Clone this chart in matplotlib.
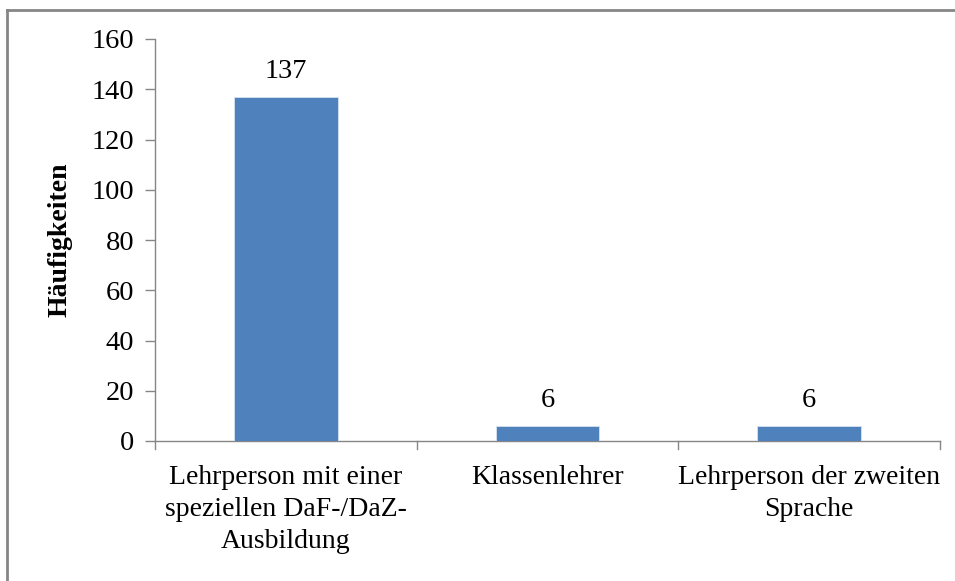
import matplotlib
matplotlib.use("Agg")
import matplotlib.pyplot as plt
from matplotlib.lines import Line2D

categories = ["Lehrperson mit einer\nspeziellen DaF-/DaZ-\nAusbildung",
              "Klassenlehrer",
              "Lehrperson der zweiten\nSprache"]
values = [137, 6, 6]
yticks = [0, 20, 40, 60, 80, 100, 120, 140, 160]

plt.rcParams["font.family"] = ["Liberation Serif", "DejaVu Serif"]

fig = plt.figure(figsize=(9.55, 5.81), dpi=100)
ax = fig.add_axes([155 / 955, 1 - 441 / 581, (940 - 155) / 955, (441 - 39) / 581])

bar_color = "#4f81bd"
x = list(range(len(categories)))
ax.bar(x, values, width=0.395, color=bar_color, edgecolor="#d8e2f0", linewidth=0.6, zorder=3)
for xi, v in zip(x, values):
    ax.text(xi, v + 5, str(v), ha="center", va="bottom", fontsize=20.5, color="black")

ax.set_xlim(-0.5, len(categories) - 0.5)
ax.set_ylim(0, 160)
ax.set_yticks(yticks)
ax.set_yticklabels([str(t) for t in yticks], fontsize=20.5)
ax.tick_params(axis="y", direction="out", length=7, width=1, color="#868686", pad=8)

ax.set_xticks(x)
ax.set_xticklabels(categories, fontsize=20, linespacing=1.38)
ax.tick_params(axis="x", length=0, pad=17)
# category separator ticks below the baseline
for b in [i - 0.5 for i in range(len(categories) + 1)]:
    ax.plot([b, b], [0, -0.02], transform=ax.get_xaxis_transform(), color="#868686",
            linewidth=1, clip_on=False)

for side in ["top", "right"]:
    ax.spines[side].set_visible(False)
for side in ["left", "bottom"]:
    ax.spines[side].set_color("#868686")
    ax.spines[side].set_linewidth(1)

ax.set_ylabel("Häufigkeiten", fontsize=20, fontweight="bold", labelpad=14)

# chart frame (top and left edges)
fig.add_artist(Line2D([7 / 955, 7 / 955], [0, 1 - 10 / 581], transform=fig.transFigure,
                      color="#868686", linewidth=2))
fig.add_artist(Line2D([7 / 955, 1], [1 - 10 / 581, 1 - 10 / 581], transform=fig.transFigure,
                      color="#868686", linewidth=2))

fig.savefig("out.png", dpi=100)
